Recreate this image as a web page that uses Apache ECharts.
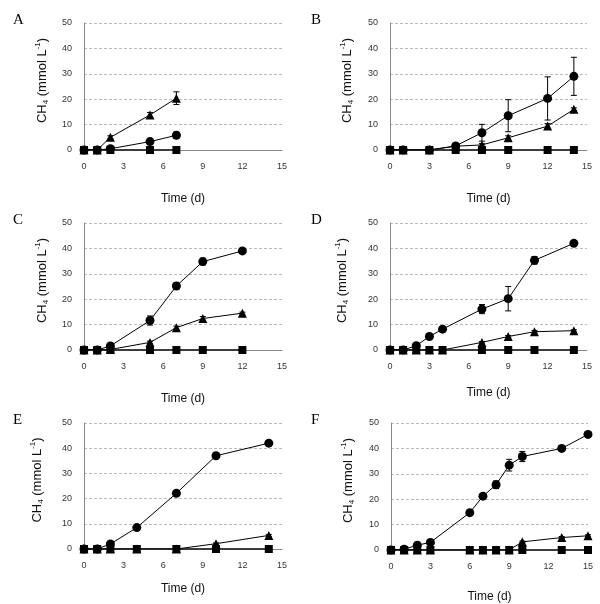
<!DOCTYPE html>
<html>
<head>
<meta charset="utf-8">
<script src="https://cdn.jsdelivr.net/npm/echarts@6/dist/echarts.min.js"></script>
<style>
html,body{margin:0;padding:0;background:#fff;}
#main{width:600px;height:604px;}
</style>
</head>
<body>
<div id="main"></div>
<script>
// 数据
var panelNames = ['A', 'B', 'C', 'D', 'E', 'F'];
var xTicks = [0, 3, 6, 9, 12, 15];

var timeA = [0, 1, 2, 5, 7];
var circA = [0, 0, 0.5, 3.3, 5.8];
var circErrA = [0, 0, 0, 0.5, 1.2];
var triA = [0, 0, 5, 13.8, 20.4];
var triErrA = [0, 0, 0.6, 1, 2.5];

var timeB = [0, 1, 3, 5, 7, 9, 12, 14];
var circB = [0, 0, 0, 1.6, 6.8, 13.5, 20.3, 29];
var circErrB = [0, 0, 0, 0.5, 3.3, 6.3, 8.5, 7.5];
var triB = [0, 0, 0, 1.5, 2, 4.8, 9.4, 16];
var triErrB = [0, 0, 0, 0, 0.5, 0.8, 1, 0.6];

var timeC = [0, 1, 2, 5, 7, 9, 12];
var circC = [0, 0, 1.6, 11.6, 25.2, 34.8, 39];
var circErrC = [0, 0, 0.3, 1.8, 1.2, 1.3, 0.5];
var triC = [0, 0, 0.2, 3, 8.8, 12.4, 14.5];
var triErrC = [0, 0, 0, 0.5, 0.6, 0.8, 0.4];

var timeD = [0, 1, 2, 3, 4, 7, 9, 11, 14];
var circD = [0, 0, 1.7, 5.3, 8.2, 16.1, 20.2, 35.3, 42];
var circErrD = [0, 0, 0.3, 0.4, 0.4, 1.8, 4.8, 1.5, 0.5];
var triD = [0, 0, 0, 0, 0, 3, 5.3, 7.2, 7.6];
var triErrD = [0, 0, 0, 0, 0, 0.3, 0.4, 0.5, 0.4];

var timeE = [0, 1, 2, 4, 7, 10, 14];
var circE = [0, 0, 2, 8.5, 22.1, 37, 42];
var circErrE = [0, 0, 0.3, 0.5, 0.5, 0.5, 0.8];
var triE = [0, 0, 0, 0, 0, 2.1, 5.4];
var triErrE = [0, 0, 0, 0, 0, 0.3, 0.4];

var timeF = [0, 1, 2, 3, 6, 7, 8, 9, 10, 13, 15];
var circF = [0, 0.3, 1.9, 3, 14.7, 21.2, 25.7, 33.4, 36.8, 40, 45.5];
var circErrF = [0, 0, 0.3, 0.3, 0.5, 0.8, 1.5, 2.3, 2, 0.8, 0.5];
var triF = [0, 0, 0, 0, 0, 0, 0, 0, 3.2, 4.9, 5.6];
var triErrF = [0, 0, 0, 0, 0, 0, 0, 0, 0.3, 0.4, 0.4];

var panels = [
    {t: timeA, c: circA, ce: circErrA, tr: triA, te: triErrA},
    {t: timeB, c: circB, ce: circErrB, tr: triB, te: triErrB},
    {t: timeC, c: circC, ce: circErrC, tr: triC, te: triErrC},
    {t: timeD, c: circD, ce: circErrD, tr: triD, te: triErrD},
    {t: timeE, c: circE, ce: circErrE, tr: triE, te: triErrE},
    {t: timeF, c: circF, ce: circErrF, tr: triF, te: triErrF}
];

// 每个小图的位置
var grids = [
    {left: 84, top: 23, width: 198, height: 127},
    {left: 390, top: 23, width: 197, height: 127},
    {left: 84, top: 223, width: 198, height: 127},
    {left: 390, top: 223, width: 197, height: 127},
    {left: 84, top: 423, width: 198, height: 126},
    {left: 391, top: 423, width: 197, height: 128}
];
var xNameGap = [43, 43, 43, 37, 34, 41];
var yNameGap = [34, 35, 34, 40, 39, 35];

function pairs(xs, ys) {
    var out = [];
    for (var i = 0; i < xs.length; i++) out.push([xs[i], ys[i]]);
    return out;
}
function triples(xs, ys, es) {
    var out = [];
    for (var i = 0; i < xs.length; i++) {
        if (es[i] > 0) out.push([xs[i], ys[i], es[i]]);
    }
    return out;
}

//误差线
function errorBar(params, api) {
    var x = api.value(0), y = api.value(1), e = api.value(2);
    var top = api.coord([x, y + e]);
    var bot = api.coord([x, y - e]);
    var w = 3;
    var st = {stroke: '#000', lineWidth: 1};
    return {
        type: 'group',
        children: [
            {type: 'line', shape: {x1: top[0], y1: top[1], x2: bot[0], y2: bot[1]}, style: st},
            {type: 'line', shape: {x1: top[0] - w, y1: top[1], x2: top[0] + w, y2: top[1]}, style: st},
            {type: 'line', shape: {x1: bot[0] - w, y1: bot[1], x2: bot[0] + w, y2: bot[1]}, style: st}
        ]
    };
}

var titles = [], xAxes = [], yAxes = [], series = [];
for (var i = 0; i < 6; i++) {
    var g = grids[i];
    var p = panels[i];
    titles.push({
        text: panelNames[i],
        left: (i % 2 == 0) ? 8 : 306,
        top: g.top - 15,
        textStyle: {fontFamily: 'Liberation Serif', fontSize: 15, fontWeight: 'normal', color: '#000'}
    });
    xAxes.push({
        gridIndex: i, type: 'value', min: 0, max: 15, interval: 3,
        name: 'Time (d)', nameLocation: 'middle', nameGap: xNameGap[i],
        nameTextStyle: {fontFamily: 'Liberation Sans', fontSize: 12, color: '#111'},
        axisLine: {lineStyle: {color: '#888', width: 1}},
        axisTick: {show: false},
        axisLabel: {fontFamily: 'Liberation Sans', fontSize: 9, color: '#333', margin: 12},
        splitLine: {show: false}
    });
    yAxes.push({
        gridIndex: i, type: 'value', min: 0, max: 50, interval: 10,
        name: '{a|CH}{s|4}{a| (mmol L}{p|-1}{a|)}', nameLocation: 'middle', nameGap: yNameGap[i],
        nameTextStyle: {
            fontFamily: 'Liberation Sans', fontSize: 12, color: '#111',
            padding: [0, 0, 0, 12],
            rich: {
                a: {fontFamily: 'Liberation Sans', fontSize: 13, color: '#111', lineHeight: 16},
                s: {fontFamily: 'Liberation Sans', fontSize: 8, color: '#111', lineHeight: 16, verticalAlign: 'bottom', padding: [6, 0, 0, 0]},
                p: {fontFamily: 'Liberation Sans', fontSize: 8, color: '#111', lineHeight: 16, verticalAlign: 'top', padding: [0, 0, 6, 0]}
            }
        },
        axisLine: {show: true, lineStyle: {color: '#888', width: 1}},
        axisTick: {show: false},
        axisLabel: {fontFamily: 'Liberation Sans', fontSize: 9, color: '#333', margin: 12},
        splitLine: {lineStyle: {color: '#bbb', type: [3, 2], width: 1}}
    });
    var zeros = p.t.map(function () { return 0; });
    series.push({
        type: 'custom', xAxisIndex: i, yAxisIndex: i, renderItem: errorBar,
        data: triples(p.t, p.tr, p.te), z: 1, silent: true
    });
    series.push({
        type: 'custom', xAxisIndex: i, yAxisIndex: i, renderItem: errorBar,
        data: triples(p.t, p.c, p.ce), z: 1, silent: true
    });
    series.push({
        type: 'line', xAxisIndex: i, yAxisIndex: i, data: pairs(p.t, p.tr),
        symbol: 'triangle', symbolSize: 9, z: 2,
        lineStyle: {color: '#000', width: 1}, itemStyle: {color: '#000'}, animation: false
    });
    series.push({
        type: 'line', xAxisIndex: i, yAxisIndex: i, data: pairs(p.t, p.c),
        symbol: 'circle', symbolSize: 9, z: 3,
        lineStyle: {color: '#000', width: 1}, itemStyle: {color: '#000'}, animation: false
    });
    series.push({
        type: 'line', xAxisIndex: i, yAxisIndex: i, data: pairs(p.t, zeros),
        symbol: 'rect', symbolSize: 8, z: 4,
        lineStyle: {color: '#000', width: 1.5}, itemStyle: {color: '#000'}, animation: false
    });
}

var chart = echarts.init(document.getElementById('main'));
chart.setOption({
    backgroundColor: '#fff',
    animation: false,
    title: titles,
    grid: grids,
    xAxis: xAxes,
    yAxis: yAxes,
    series: series
});
</script>
</body>
</html>
